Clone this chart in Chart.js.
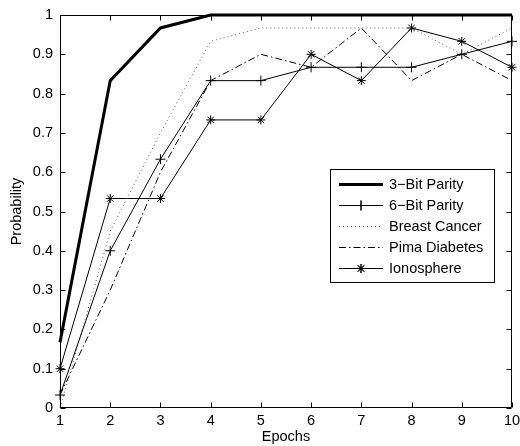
<!DOCTYPE html>
<html>
<head>
<meta charset="utf-8">
<script src="https://cdn.jsdelivr.net/npm/chart.js@4.4.0/dist/chart.umd.min.js"></script>
<style>
  html, body { margin: 0; padding: 0; background: #fff; }
</style>
</head>
<body>
<canvas id="probChart" width="520" height="446"></canvas>
<script>
const epochs = [1, 2, 3, 4, 5, 6, 7, 8, 9, 10];
const parity3 = [0.167, 0.833, 0.967, 1, 1, 1, 1, 1, 1, 1];
const parity6 = [0.033, 0.4, 0.633, 0.833, 0.833, 0.867, 0.867, 0.867, 0.9, 0.933];
const breastCancer = [0, 0.45, 0.7, 0.933, 0.967, 0.967, 0.967, 0.967, 0.9, 0.967];
const pimaDiabetes = [0.033, 0.3, 0.6, 0.833, 0.9, 0.867, 0.967, 0.833, 0.9, 0.833];
const ionosphere = [0.1, 0.533, 0.533, 0.733, 0.733, 0.9, 0.833, 0.967, 0.933, 0.867];
const yTickLabels = ["0", "0.1", "0.2", "0.3", "0.4", "0.5", "0.6", "0.7", "0.8", "0.9", "1"];

const FONT = "'Liberation Sans', Arial, Helvetica, sans-serif";
const FSIZE = 14.5;

function series(label, data, extra) {
  return Object.assign({
    label: label,
    data: data,
    borderColor: "#000",
    backgroundColor: "#000",
    borderWidth: 1,
    pointRadius: 0,
    pointHoverRadius: 0,
    pointBorderWidth: 1,
    tension: 0,
    fill: false,
    clip: false,
  }, extra || {});
}

// matlab style box: frame on all four sides with inward ticks
const boxTicks = {
  id: "boxTicks",
  afterDatasetsDraw(chart) {
    const { ctx, chartArea: a, scales } = chart;
    const L = a.left + 0.5, R = a.right - 0.5, T = a.top + 0.5, B = a.bottom - 0.5;
    ctx.save();
    ctx.strokeStyle = "#000";
    ctx.lineWidth = 1;
    ctx.beginPath();
    epochs.forEach((e, i) => {
      const px = Math.round(scales.x.getPixelForValue(i)) + 0.5;
      ctx.moveTo(px, B); ctx.lineTo(px, B - 5);
      ctx.moveTo(px, T); ctx.lineTo(px, T + 5);
    });
    yTickLabels.forEach((t) => {
      const py = Math.round(scales.y.getPixelForValue(parseFloat(t))) + 0.5;
      ctx.moveTo(L, py); ctx.lineTo(L + 5, py);
      ctx.moveTo(R, py); ctx.lineTo(R - 5, py);
    });
    ctx.rect(L, T, R - L, B - T);
    ctx.stroke();
    ctx.restore();
  },
};

// legend box inside the plot, lower right
const boxLegend = {
  id: "boxLegend",
  afterDraw(chart) {
    const { ctx } = chart;
    const x0 = 330.5, y0 = 169.5, w = 164, h = 113;
    ctx.save();
    ctx.fillStyle = "#fff";
    ctx.fillRect(x0, y0, w, h);
    ctx.strokeStyle = "#000";
    ctx.lineWidth = 1;
    ctx.strokeRect(x0, y0, w, h);
    ctx.font = FSIZE + "px " + FONT;
    ctx.textBaseline = "middle";
    ctx.textAlign = "left";
    chart.data.datasets.forEach((ds, i) => {
      const cy = Math.round(184 + i * 21) + 0.5;
      ctx.save();
      ctx.strokeStyle = ds.borderColor;
      ctx.lineWidth = ds.borderWidth;
      ctx.setLineDash(ds.borderDash || []);
      ctx.beginPath();
      ctx.moveTo(339, cy);
      ctx.lineTo(383, cy);
      ctx.stroke();
      ctx.restore();
      if (ds.pointStyle && ds.pointRadius > 0) {
        Chart.helpers.drawPoint(ctx, {
          pointStyle: ds.pointStyle,
          radius: ds.pointRadius,
          rotation: 0,
          borderWidth: 1,
        }, 361, cy);
        ctx.strokeStyle = "#000";
        ctx.lineWidth = 1;
        ctx.stroke();
      }
      ctx.fillStyle = "#000";
      ctx.fillText(ds.label, 389, cy);
    });
    ctx.restore();
  },
};

const ctx = document.getElementById("probChart").getContext("2d");
const probChart = new Chart(ctx, {
  type: "line",
  data: {
    labels: epochs,
    datasets: [
      series("3\u2212Bit Parity", parity3, { borderWidth: 3 }),
      series("6\u2212Bit Parity", parity6, { pointStyle: "cross", pointRadius: 5 }),
      series("Breast Cancer", breastCancer, { borderColor: "#555", borderDash: [1, 3] }),
      series("Pima Diabetes", pimaDiabetes, { borderDash: [7, 3, 1.5, 3] }),
      series("Ionosphere", ionosphere, { pointStyle: "star", pointRadius: 4.5 }),
    ],
  },
  options: {
    responsive: false,
    animation: false,
    events: [],
    layout: { padding: { top: 15, right: 8, left: 0, bottom: 0 } },
    plugins: {
      legend: { display: false },
      tooltip: { enabled: false },
    },
    scales: {
      x: {
        type: "category",
        offset: false,
        grid: { display: false, drawTicks: false },
        border: { display: false },
        ticks: {
          color: "#000",
          padding: 4,
          maxRotation: 0,
          autoSkip: false,
          font: { family: FONT, size: FSIZE },
        },
        title: {
          display: true,
          text: "Epochs",
          color: "#000",
          padding: { top: 0, bottom: 0 },
          font: { family: FONT, size: FSIZE },
        },
        afterFit(scale) {
          scale.height = 38;
          scale.paddingLeft = 0;
          scale.paddingRight = 0;
        },
      },
      y: {
        min: 0,
        max: 1,
        grid: { display: false, drawTicks: false },
        border: { display: false },
        ticks: {
          stepSize: 0.1,
          color: "#000",
          padding: 7,
          font: { family: FONT, size: FSIZE },
          callback: (v, i) => yTickLabels[i],
        },
        title: {
          display: true,
          text: "Probability",
          color: "#000",
          padding: { top: 8, bottom: 0 },
          font: { family: FONT, size: FSIZE },
        },
        afterFit(scale) {
          scale.width = 60;
          scale.paddingTop = 0;
          scale.paddingBottom = 0;
        },
      },
    },
  },
  plugins: [boxTicks, boxLegend],
});
</script>
</body>
</html>
